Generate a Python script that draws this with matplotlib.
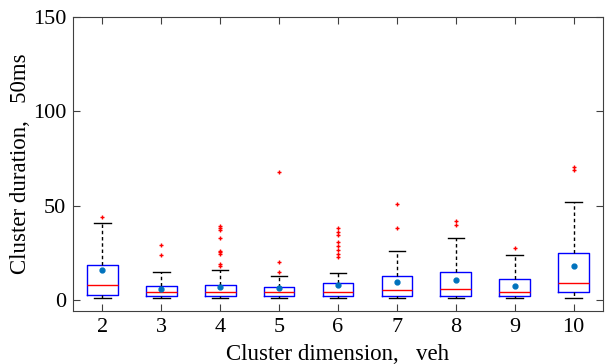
import matplotlib
matplotlib.use("Agg")
from matplotlib import pyplot as plt

plt.rcParams['font.family'] = ['Liberation Serif', 'DejaVu Serif']

# cluster sizes and box statistics
dims = [2, 3, 4, 5, 6, 7, 8, 9, 10]
q1 = [2.7, 1.8, 1.8, 1.8, 1.8, 1.8, 1.8, 1.8, 3.9]
med = [7.8, 3.9, 3.9, 3.9, 3.9, 4.9, 5.8, 3.9, 8.8]
q3 = [18.6, 7.4, 7.8, 6.5, 8.8, 12.7, 14.8, 11.0, 24.6]
wlo = [0.9, 0.9, 0.9, 0.9, 0.9, 0.9, 0.9, 0.9, 0.9]
whi = [40.7, 14.8, 15.7, 12.7, 14.0, 25.8, 32.9, 23.7, 51.8]
means = [15.9, 5.8, 7.0, 6.2, 8.0, 9.4, 10.2, 7.4, 17.9]
outliers = [
    [43.8],
    [28.8, 23.9],
    [38.9, 38.0, 37.1, 32.7, 26.1, 25.1, 24.0, 19.1, 18.0],
    [67.9, 19.8, 14.8],
    [37.8, 36.0, 34.3, 30.8, 28.6, 26.5, 24.4, 22.6],
    [50.9, 37.8],
    [41.9, 39.9],
    [27.7],
    [70.5, 69.0],
]

stats = []
for i in range(len(dims)):
    stats.append({'q1': q1[i], 'med': med[i], 'q3': q3[i],
                  'whislo': wlo[i], 'whishi': whi[i],
                  'mean': means[i], 'fliers': outliers[i]})

fig = plt.figure(figsize=(6.05, 3.64), dpi=100)
ax = fig.add_axes([0.1207, 0.1456, 0.876, 0.8074])

ax.bxp(stats, positions=dims, widths=0.52, showmeans=True,
       capwidths=0.28,
       boxprops=dict(color='#0000ff', linewidth=1.0),
       medianprops=dict(color='#ff0000', linewidth=1.0),
       whiskerprops=dict(color='black', linewidth=1.0, linestyle=(0, (2.5, 2))),
       capprops=dict(color='black', linewidth=1.0),
       flierprops=dict(marker='+', markeredgecolor='#ff0000', markersize=3.5, markeredgewidth=1.0),
       meanprops=dict(marker='o', markerfacecolor='#0072bd', markeredgecolor='#0072bd', markersize=3.5))

ax.set_xlim(1.5, 10.5)
ax.set_ylim(-6, 150)
ax.set_xticks(dims)
ax.set_xticklabels([str(d) for d in dims])
ax.set_yticks([0, 50, 100, 150])

for s in ax.spines.values():
    s.set_color('#404040')
    s.set_linewidth(0.8)
ax.tick_params(direction='in', length=5, width=0.8, color='#404040',
               labelsize=16, top=True, right=True, pad=5)

ax.set_ylabel('Cluster duration,   50ms', fontsize=16.5, labelpad=1)
ax.set_xlabel('Cluster dimension,   veh', fontsize=16.5, labelpad=5)

plt.savefig('out.png', dpi=100)
